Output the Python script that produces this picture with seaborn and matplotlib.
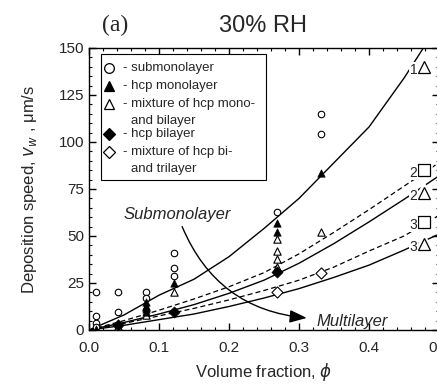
import matplotlib
matplotlib.use("Agg")
import pandas as pd
import matplotlib.pyplot as plt
from matplotlib.ticker import MultipleLocator
from matplotlib.patches import Rectangle
import seaborn as sns

# -----------------------------
# Values
# -----------------------------
phi_sub = [0.01, 0.01, 0.01, 0.01, 0.042, 0.042, 0.082, 0.082,
           0.121, 0.121, 0.121, 0.268, 0.331, 0.331]
v_sub = [20, 7.5, 3.5, 1.5, 20, 9.6, 20, 17, 41, 32.8, 28.7, 62.6, 115, 104.4]

phi_mono = [0.01, 0.042, 0.082, 0.082, 0.082, 0.082, 0.121, 0.268, 0.268, 0.331]
v_mono = [0.5, 3.5, 15, 13, 11, 9.5, 25.2, 56.7, 52.3, 83.7]

phi_mix12 = [0.042, 0.082, 0.082, 0.121, 0.268, 0.268, 0.268, 0.268, 0.331]
v_mix12 = [2, 12, 8, 20.4, 48.4, 42.2, 37.8, 33.7, 52.3]

phi_bi = [0.042, 0.121, 0.268]
v_bi = [2.5, 9.7, 30.7]

phi_mix23 = [0.268, 0.331]
v_mix23 = [20, 30.5]

# model curves
phi_fit = [0, 0.05, 0.1, 0.15, 0.2, 0.25, 0.3, 0.35, 0.4, 0.45, 0.5]
curve_1 = [0, 8, 18.5, 27, 39, 54, 70, 89, 108, 134, 163]
curve_2_dash = [0, 5, 10.5, 16.5, 23, 30.5, 40.5, 52, 64, 76.5, 89]
curve_2_solid = [0, 4, 8.5, 13.5, 19.5, 26.5, 35.5, 46, 57.5, 69.5, 82]
curve_3_dash = [0, 3.5, 7.5, 11.5, 16, 21, 26.5, 33.5, 42, 50, 61]
curve_3_solid = [0, 2.5, 5.5, 8.5, 12.5, 17, 22, 28, 34.5, 42.5, 51]

# curve labels at the right side
label_num = ["1", "2", "2", "3", "3"]
label_mark = ["^", "s", "^", "s", "^"]
label_y = [140, 85, 72.7, 57.6, 45.7]

legend_text = ["- submonolayer", "- hcp monolayer",
               "- mixture of hcp mono-", "- hcp bilayer",
               "- mixture of hcp bi-"]

sns.set_style("ticks")
plt.rcParams["font.family"] = ["Liberation Sans", "DejaVu Sans"]

fig = plt.figure(figsize=(4.37, 3.85), dpi=100)
ax = fig.add_axes([0.2037, 0.1429, 0.801, 0.7325])

# -----------------------------
# Curves
# -----------------------------
sns.lineplot(x=phi_fit, y=curve_1, color="black", lw=1, errorbar=None, ax=ax)
sns.lineplot(x=phi_fit, y=curve_2_solid, color="black", lw=1, errorbar=None, ax=ax)
sns.lineplot(x=phi_fit, y=curve_3_solid, color="black", lw=1, errorbar=None, ax=ax)
sns.lineplot(x=phi_fit, y=curve_2_dash, color="black", lw=0.9,
             linestyle=(0, (4, 2.5)), errorbar=None, ax=ax)
sns.lineplot(x=phi_fit, y=curve_3_dash, color="black", lw=0.9,
             linestyle=(0, (4, 2.5)), errorbar=None, ax=ax)

# -----------------------------
# Data points
# -----------------------------
ms = 22
sns.scatterplot(x=phi_sub, y=v_sub, marker="o", s=ms, facecolor="white",
                edgecolor="black", linewidth=0.8, zorder=4, ax=ax)
sns.scatterplot(x=phi_mix12, y=v_mix12, marker="^", s=ms + 6, facecolor="white",
                edgecolor="black", linewidth=0.8, zorder=4, ax=ax)
sns.scatterplot(x=phi_mix23, y=v_mix23, marker="D", s=ms + 10, facecolor="white",
                edgecolor="black", linewidth=0.8, zorder=4, ax=ax)
sns.scatterplot(x=phi_mono, y=v_mono, marker="^", s=ms + 6, color="black",
                edgecolor="black", linewidth=0.5, zorder=5, ax=ax)
sns.scatterplot(x=phi_bi, y=v_bi, marker="D", s=ms + 10, color="black",
                edgecolor="black", linewidth=0.5, zorder=5, ax=ax)

# curve labels
for num, mk, yv in zip(label_num, label_mark, label_y):
    ax.plot(0.478, yv, marker=mk, ms=8.5, mfc="white", mec="white", mew=4,
            ls="none", zorder=6, clip_on=False)
    ax.plot(0.478, yv, marker=mk, ms=8.5, mfc="white", mec="black", mew=0.9,
            ls="none", zorder=7, clip_on=False)
    ax.text(0.469, yv - 1.5, num, ha="right", va="center", fontsize=10, zorder=7,
            bbox=dict(fc="white", ec="none", pad=0.3))

# arrow and annotations
ax.annotate("", xy=(0.311, 6.4), xytext=(0.133, 55),
            arrowprops=dict(arrowstyle="-|>,head_length=0.8,head_width=0.3",
                            mutation_scale=13, connectionstyle="arc3,rad=0.3",
                            color="black", lw=1, shrinkA=0, shrinkB=0))
ax.text(0.126, 61.5, "Submonolayer", style="italic", fontsize=12,
        ha="center", va="center")
ax.text(0.376, 4.5, "Multilayer", style="italic", fontsize=12,
        ha="center", va="center")

# -----------------------------
# Hand-made legend box
# -----------------------------
ax.add_patch(Rectangle((0.034, 0.532), 0.472, 0.447, transform=ax.transAxes,
                       fc="white", ec="black", lw=0.8, zorder=8))
leg_y = [0.930, 0.866, 0.801, 0.695, 0.631]
leg_mk = [("o", "white"), ("^", "black"), ("^", "white"), ("D", "black"), ("D", "white")]
for (mk, fc), yy, txt in zip(leg_mk, leg_y, legend_text):
    ax.plot(0.057, yy, marker=mk, ms=7 if mk != "D" else 6.5, mfc=fc, mec="black",
            mew=0.9, ls="none", transform=ax.transAxes, zorder=9, clip_on=False)
    ax.text(0.096, yy, txt, transform=ax.transAxes, fontsize=9.5,
            va="center", ha="left", zorder=9)
ax.text(0.12, 0.741, "and bilayer", transform=ax.transAxes, fontsize=9.5,
        va="center", ha="left", zorder=9)
ax.text(0.12, 0.571, "and trilayer", transform=ax.transAxes, fontsize=9.5,
        va="center", ha="left", zorder=9)

# -----------------------------
# Axes styling
# -----------------------------
ax.set_xlim(0, 0.5)
ax.set_ylim(0, 150)
ax.xaxis.set_major_locator(MultipleLocator(0.1))
ax.xaxis.set_minor_locator(MultipleLocator(0.02))
ax.yaxis.set_major_locator(MultipleLocator(25))
ax.yaxis.set_minor_locator(MultipleLocator(5))
ax.xaxis.set_major_formatter(plt.FuncFormatter(lambda v, p: f"{v:.1f}"))
ax.tick_params(which="both", direction="in", top=True, right=True,
               labelsize=11, color="black")
ax.tick_params(which="major", length=5, width=1)
ax.tick_params(which="minor", length=2.5, width=0.8)
ax.tick_params(axis="x", which="major", pad=8)
for s in ax.spines.values():
    s.set_linewidth(1)
    s.set_color("black")

ax.set_xlabel(r"Volume fraction, $\phi$", fontsize=12, labelpad=4)
ax.set_ylabel(r"Deposition speed, $v_w$ , μm/s", fontsize=12, labelpad=14)

fig.text(0.263, 0.935, "(a)", family="Liberation Serif", fontsize=17,
         ha="center", va="center")
fig.text(0.602, 0.933, "30% RH", fontsize=17, ha="center", va="center")

fig.savefig("out.png", dpi=100)
